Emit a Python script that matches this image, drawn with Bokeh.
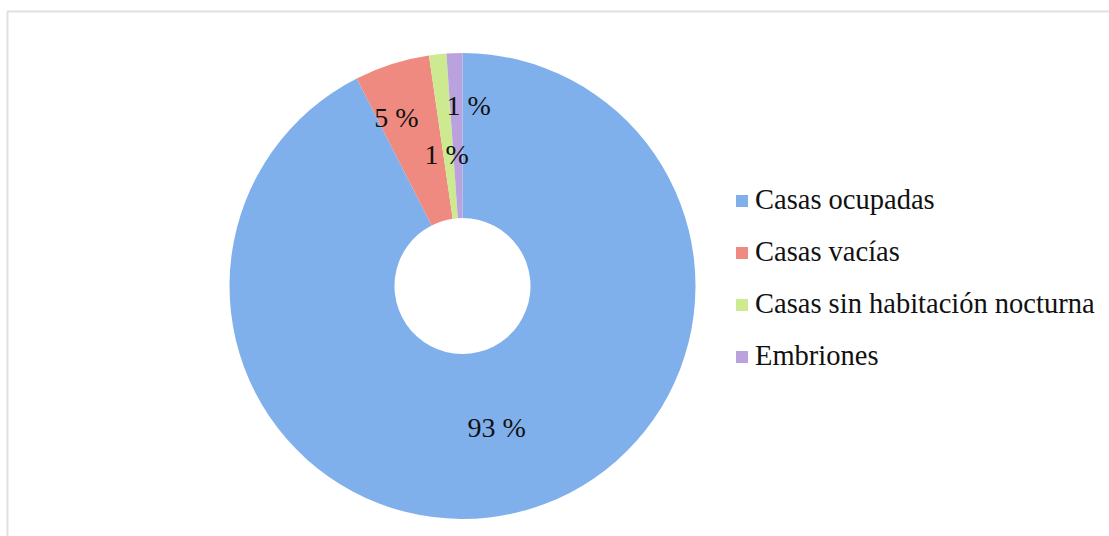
import math
from bokeh.plotting import figure
from bokeh.models import ColumnDataSource, Range1d, BoxAnnotation, Legend, LegendItem
from bokeh.core.properties import value
from bokeh.embed import file_html
from bokeh.resources import INLINE

# ---- data ----
categories = ["Casas ocupadas", "Casas vacías", "Casas sin habitación nocturna", "Embriones"]
shares = [92.5, 5.2, 1.2, 1.1]
pct_labels = ["93 %", "5 %", "1 %", "1 %"]
colors = ["#80B0EB", "#EE8A80", "#CDEA91", "#B9A2DD"]

# ---- layout ----
W, H = 1109, 536
cx, cy = 462, 250.5
r_out, r_in = 233, 68
FONT = "Liberation Serif"
# label placement (radius, angular nudge in degrees) mimicking the original's placement
label_r = [146, 181, 132, 181]
label_nudge = [0, 3.8, 0.8, -3.9]

total = float(sum(shares))
start, end = [], []
cur = math.pi / 2
for v in shares:
    a = 2 * math.pi * v / total
    end.append(cur)
    start.append(cur - a)
    cur -= a

lx, ly = [], []
for i in range(len(shares)):
    mid = (start[i] + end[i]) / 2 + math.radians(label_nudge[i])
    lx.append(cx + label_r[i] * math.cos(mid))
    ly.append(cy + label_r[i] * math.sin(mid))

src = ColumnDataSource(dict(cat=categories, start=start, end=end, color=colors,
                            x=[cx] * 4, y=[cy] * 4, lx=lx, ly=ly, lab=pct_labels))

p = figure(width=W, height=H, output_backend="svg", toolbar_location=None,
           x_range=Range1d(0, W), y_range=Range1d(0, H),
           x_axis_type=None, y_axis_type=None, min_border=0)
p.grid.visible = False
p.outline_line_color = None
p.background_fill_color = "white"
p.border_fill_color = "white"

wedges = p.annular_wedge(x="x", y="y", inner_radius=r_in, outer_radius=r_out,
                         start_angle="start", end_angle="end", fill_color="color",
                         line_color=None, source=src)

p.text(x="lx", y="ly", text="lab", source=src, text_align="center",
       text_baseline="middle", text_font=value(FONT), text_font_size="28px",
       text_color="#111111")

items = [LegendItem(label=c, renderers=[wedges], index=i) for i, c in enumerate(categories)]
legend = Legend(items=items, location=(734, 164), padding=0, margin=0,
                border_line_color=None, background_fill_alpha=0,
                glyph_width=15, glyph_height=15, label_standoff=6, spacing=20,
                label_text_font=FONT, label_text_font_size="28.5px",
                label_text_color="#111111")
p.add_layout(legend)

frame = BoxAnnotation(left=7, right=5000, top=H - 11, bottom=-5000,
                      fill_alpha=0, line_color="#999999", line_width=2)
p.add_layout(frame)

open("out.html", "w").write(file_html(p, INLINE))
